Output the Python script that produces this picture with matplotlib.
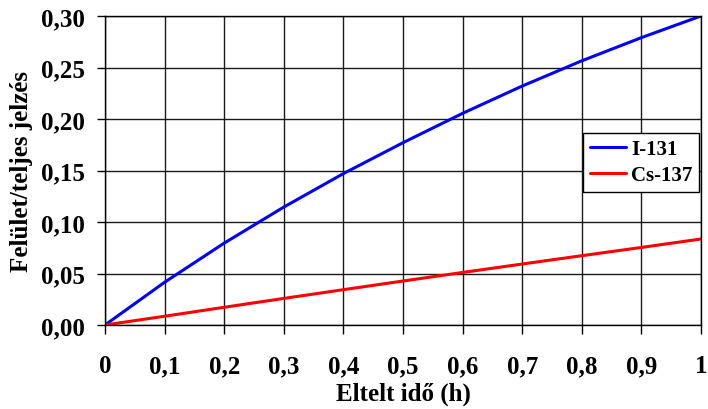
import matplotlib
matplotlib.use("Agg")
import matplotlib.pyplot as plt

plt.rcParams['font.family'] = ['Liberation Serif', 'DejaVu Serif']
plt.rcParams['font.weight'] = 'bold'

x = [0.0, 0.1, 0.2, 0.3, 0.4, 0.5, 0.6, 0.7, 0.8, 0.9, 1.0]
i131 = [0.0, 0.0415, 0.0795, 0.1145, 0.147, 0.177, 0.2055, 0.232, 0.2565, 0.279, 0.300]
cs137 = [0.0, 0.0085, 0.0172, 0.0258, 0.0343, 0.0427, 0.051, 0.0592, 0.0673, 0.0753, 0.0835]
xticks = [0, 0.1, 0.2, 0.3, 0.4, 0.5, 0.6, 0.7, 0.8, 0.9, 1.0]
xticklabels = ["0", "0,1", "0,2", "0,3", "0,4", "0,5", "0,6", "0,7", "0,8", "0,9", "1"]
yticks = [0.0, 0.05, 0.10, 0.15, 0.20, 0.25, 0.30]
yticklabels = ["0,00", "0,05", "0,10", "0,15", "0,20", "0,25", "0,30"]

fig = plt.figure(figsize=(7.08, 4.10), dpi=100)
ax = fig.add_axes([105/708, 84/410, 596/708, 309/410])

ax.plot(x, i131, color='#0000ff', lw=2.2, label='I-131', solid_capstyle='round', solid_joinstyle='round')
ax.plot(x, cs137, color='#ff0000', lw=2.2, label='Cs-137', solid_capstyle='round', solid_joinstyle='round')

ax.set_xlim(0, 1)
ax.set_ylim(0, 0.30)
ax.set_xticks(xticks)
ax.set_xticklabels(xticklabels)
ax.set_yticks(yticks)
ax.set_yticklabels(yticklabels)
ax.tick_params(axis='both', labelsize=18, direction='out', width=1, color='black')
ax.tick_params(axis='x', length=6.5, pad=14.5)
ax.tick_params(axis='y', length=6, pad=8.5)
for lbl in ax.get_xticklabels() + ax.get_yticklabels():
    lbl.set_fontweight('bold')

ax.grid(True, color='#1a1a1a', lw=1)
ax.set_axisbelow(True)
for s in ax.spines.values():
    s.set_color('black')
    s.set_linewidth(1)

ax.set_xlabel('Eltelt idő (h)', fontsize=18, fontweight='bold', labelpad=3.5)
ax.set_ylabel('Felület/teljes jelzés', fontsize=18, fontweight='bold', labelpad=6)

leg = ax.legend(loc='upper right', bbox_to_anchor=(0.9966, 0.6214), fancybox=False,
                edgecolor='black', framealpha=1, fontsize=15, handlelength=1.75,
                handletextpad=0.25, borderpad=0.3, labelspacing=0.3, borderaxespad=0)
leg.get_frame().set_linewidth(1)
for t in leg.get_texts():
    t.set_fontweight('bold')

fig.savefig('out.png', dpi=100)
